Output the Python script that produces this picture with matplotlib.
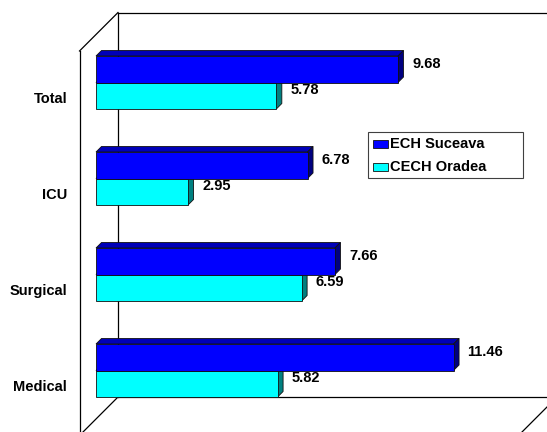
import matplotlib
matplotlib.use("Agg")
import matplotlib.pyplot as plt
from matplotlib.patches import Polygon, Rectangle

categories = ["Total", "ICU", "Surgical", "Medical"]
series_names = ["ECH Suceava", "CECH Oradea"]
suceava = [9.68, 6.78, 7.66, 11.46]
oradea = [5.78, 2.95, 6.59, 5.82]

W, H = 547, 432
plt.rcParams["font.family"] = ["Liberation Sans", "DejaVu Sans"]
plt.rcParams["font.weight"] = "bold"
FS = 10.5

fig = plt.figure(figsize=(W / 100, H / 100), dpi=100)
ax = fig.add_axes([0, 0, 1, 1])
ax.axis("off")

# horizontal value scale: pixels per unit and origin of the bar fronts
PPU = 31.2
X0 = 96
ax.set_xlim(-X0 / PPU, (W - X0) / PPU)
ax.set_ylim(H, 0)  # vertical axis in pixel rows, top-down

def px(xp):
    return (xp - X0) / PPU

# 3-D frame: side wall, back wall, floor
frame = dict(color="black", lw=0.9, zorder=1)
ax.plot([px(79.5), px(79.5)], [51, H + 5], **frame)
ax.plot([px(79.5), px(118)], [51, 12.5], **frame)
ax.plot([px(118), px(W + 5)], [12.5, 12.5], **frame)
ax.plot([px(118), px(118)], [12.5, 397], **frame)
ax.plot([px(118), px(W + 5)], [397, 397], **frame)
ax.plot([px(118), px(83)], [397, 432], **frame)
ax.plot([px(W + 5), px(W - 25)], [402, 432], **frame)

DEPTH = 5.5
BAR_H = 26.5
GROUP = 96
TOP0 = 56

styles = [
    dict(front="#0000FF", top="#0000B8", side="#000080"),
    dict(front="#00FFFF", top="#00B8B8", side="#008080"),
]

def bar3d(value, top, st, z):
    dx = DEPTH / PPU
    bot = top + BAR_H
    ek = dict(edgecolor="#101010", lw=0.6, zorder=z)
    ax.add_patch(Polygon([(0, top), (value, top), (value + dx, top - DEPTH),
                          (dx, top - DEPTH)], closed=True, facecolor=st["top"], **ek))
    ax.add_patch(Polygon([(value, top), (value + dx, top - DEPTH),
                          (value + dx, bot - DEPTH), (value, bot)],
                         closed=True, facecolor=st["side"], **ek))
    ax.barh(top + BAR_H / 2, value, height=BAR_H, left=0, color=st["front"],
            edgecolor="#101010", linewidth=0.6, zorder=z)

for i, cat in enumerate(categories):
    top_blue = TOP0 + GROUP * i
    top_cyan = top_blue + BAR_H
    bar3d(oradea[i], top_cyan, styles[1], 3)
    bar3d(suceava[i], top_blue, styles[0], 4)
    for v, t in ((suceava[i], top_blue), (oradea[i], top_cyan)):
        ax.text(v + (DEPTH + 8.5) / PPU, t + 7.5, f"{v:.2f}", ha="left",
                va="center", fontsize=FS, fontweight="bold", zorder=6)
    ax.text(px(67), top_blue + 43, cat, ha="right", va="center",
            fontsize=FS, fontweight="bold")

# legend box with colour keys
ax.add_patch(Rectangle((px(368), 132), (523 - 368) / PPU, 46, facecolor="white",
                       edgecolor="#404040", lw=0.8, zorder=7))
for k, name in enumerate(series_names):
    yc = 144 + 23 * k
    ax.add_patch(Rectangle((px(373), yc - 4), 15 / PPU, 8,
                           facecolor=styles[k]["front"], edgecolor="#101010",
                           lw=0.6, zorder=8))
    ax.text(px(390), yc, name, ha="left", va="center", fontsize=FS,
            fontweight="bold", zorder=8)

fig.savefig("out.png", dpi=100)
